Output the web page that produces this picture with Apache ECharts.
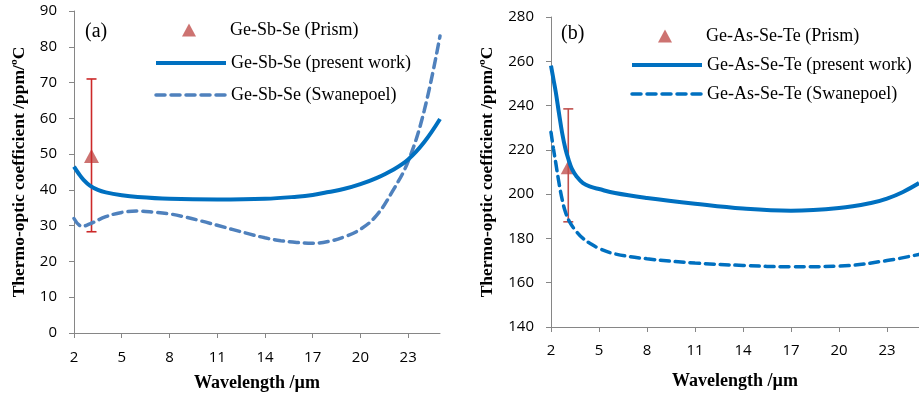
<!DOCTYPE html>
<html>
<head>
<meta charset="utf-8">
<script src="https://cdn.jsdelivr.net/npm/echarts@6/dist/echarts.min.js"></script>
<style>
  html, body { margin: 0; padding: 0; background: #fff; }
  #chart { width: 919px; height: 394px; }
</style>
</head>
<body>
<div id="chart"></div>
<script>
// panel (a): Ge-Sb-Se
const xTicks = [2, 5, 8, 11, 14, 17, 20, 23];
const gssPresentX = [2, 2.3, 2.6, 3, 3.5, 4, 5, 6, 8, 11, 14, 16, 17, 18, 19, 20, 21, 22, 23, 24, 25];
const gssPresentY = [46.5, 44.5, 42.8, 41.2, 40, 39.3, 38.5, 38, 37.5, 37.3, 37.5, 38.1, 38.6, 39.4, 40.3, 41.6, 43.3, 45.5, 48.5, 53.3, 59.8];
const gssSwanX = [2, 2.5, 3, 4, 5, 6, 7, 8, 9, 10, 11, 12, 13, 14, 15, 16, 17, 18, 19, 20, 21, 22, 23, 24, 25];
const gssSwanY = [32, 29.8, 30.5, 32.5, 33.7, 34.1, 33.8, 33.3, 32.4, 31.3, 30.1, 28.9, 27.7, 26.6, 25.8, 25.3, 25.1, 25.6, 26.9, 29.0, 32.8, 39.5, 48.0, 62.0, 83.0];
const gssPrism = [3.1, 49.5];
const gssPrismErr = [3.1, 28.3, 71];

// panel (b): Ge-As-Se-Te
const gastPresentX = [2, 2.15, 2.3, 2.5, 2.7, 2.9, 3.1, 3.3, 3.6, 4, 4.5, 5, 6, 8, 11, 14, 17, 20, 22, 23, 24, 25];
const gastPresentY = [258, 252, 246, 236.5, 227.5, 220.5, 215.5, 211.5, 208, 205, 203.3, 202.3, 200.5, 198.3, 195.7, 193.5, 192.5, 193.7, 196, 198, 201, 205];
const gastSwanX = [2, 2.15, 2.3, 2.5, 2.7, 2.9, 3.2, 3.6, 4, 4.5, 5, 6, 8, 11, 14, 17, 20, 23, 25];
const gastSwanY = [228, 220.6, 214, 205, 197.5, 192, 187, 183, 180, 177.5, 175.5, 173, 170.8, 168.9, 167.8, 167.2, 167.5, 170, 172.8];
const gastPrism = [3.08, 212.2];
const gastPrismErr = [3.08, 187.5, 238.5];

const zip = (xs, ys) => xs.map((x, i) => [x, ys[i]]);

const serif = 'Liberation Serif';
const sans = 'Open Sans';
const axisGrey = '#868686';
const blue = '#0070C0';
const lightBlue = '#4F81BD';
const red = '#C0504D';

function errorBar(params, api) {
  const x = api.value(0);
  const top = api.coord([x, api.value(2)]);
  const bot = api.coord([x, api.value(1)]);
  const style = { stroke: params.seriesIndex === 1 ? '#CC2929' : red, lineWidth: 1.6 };
  const w = 5;
  return {
    type: 'group',
    children: [
      { type: 'line', shape: { x1: top[0], y1: top[1], x2: bot[0], y2: bot[1] }, style },
      { type: 'line', shape: { x1: top[0] - w, y1: top[1], x2: top[0] + w, y2: top[1] }, style },
      { type: 'line', shape: { x1: bot[0] - w, y1: bot[1], x2: bot[0] + w, y2: bot[1] }, style }
    ]
  };
}

function xAxisFor(idx, gap, margin) {
  return {
    type: 'value', gridIndex: idx, min: 2, max: 25,
    name: 'Wavelength /µm', nameLocation: 'middle', nameGap: gap,
    nameTextStyle: { fontFamily: serif, fontWeight: 'bold', fontSize: 18, color: '#000' },
    axisLine: { lineStyle: { color: axisGrey, width: 1 } },
    axisTick: { show: true, inside: false, length: 5, lineStyle: { color: axisGrey }, customValues: xTicks },
    axisLabel: { fontFamily: sans, fontSize: 15, color: '#000', margin, customValues: xTicks },
    splitLine: { show: false }
  };
}

function yAxisFor(idx, min, max, interval, gap) {
  return {
    type: 'value', gridIndex: idx, min, max, interval,
    name: 'Thermo-optic coefficient /ppm/ºC', nameLocation: 'middle', nameGap: gap,
    nameTextStyle: { fontFamily: serif, fontWeight: 'bold', fontSize: 17.5, color: '#000' },
    axisLine: { show: true, lineStyle: { color: axisGrey, width: 1 } },
    axisTick: { show: true, inside: false, length: 5, lineStyle: { color: axisGrey } },
    axisLabel: { fontFamily: sans, fontSize: 15, color: '#000', margin: 17 },
    splitLine: { show: false }
  };
}

const legendText = { fontFamily: serif, fontSize: 18, color: '#000' };
const noDot = { opacity: 0 };

// line rows of the legend (70px line icons, full line width)
function lineLegend(left, top, gap, names) {
  return {
    orient: 'vertical', left, top, itemGap: gap, padding: 0,
    itemWidth: 70, itemHeight: 12,
    textStyle: legendText,
    data: [
      { name: names[0], itemStyle: noDot, lineStyle: { width: 4 } },
      { name: names[1], itemStyle: noDot, lineStyle: { width: 3.5 } }
    ]
  };
}

// prism row: small triangle centred over the line icons, text aligned with them
function prismLegend(left, top, name) {
  return {
    orient: 'vertical', left, top, padding: 0,
    itemWidth: 14, itemHeight: 13,
    textStyle: Object.assign({ padding: [0, 0, 0, 29] }, legendText),
    data: [{ name, icon: 'triangle' }]
  };
}

const chart = echarts.init(document.getElementById('chart'), null, { renderer: 'canvas' });

const option = {
  animation: false,
  backgroundColor: '#fff',
  title: [
    { text: '(a)', left: 85, top: 22, padding: 0, textStyle: { fontFamily: serif, fontSize: 20, fontWeight: 'normal', color: '#000' } },
    { text: '(b)', left: 561, top: 24, padding: 0, textStyle: { fontFamily: serif, fontSize: 20, fontWeight: 'normal', color: '#000' } }
  ],
  grid: [
    { left: 74, top: 11, width: 366, height: 322, outerBoundsMode: 'none' },
    { left: 551, top: 17, width: 368, height: 310, outerBoundsMode: 'none' }
  ],
  xAxis: [xAxisFor(0, 41, 17), xAxisFor(1, 45, 16)],
  yAxis: [yAxisFor(0, 0, 90, 10, 46), yAxisFor(1, 140, 280, 20, 55)],
  legend: [
    prismLegend(182, 21, 'Ge-Sb-Se (Prism)'),
    lineLegend(154, 54, 14, ['Ge-Sb-Se (present work)', 'Ge-Sb-Se (Swanepoel)']),
    prismLegend(658, 27, 'Ge-As-Se-Te (Prism)'),
    lineLegend(630, 56, 11, ['Ge-As-Se-Te (present work)', 'Ge-As-Se-Te (Swanepoel)'])
  ],
  series: [
    // (a)
    { name: 'Ge-Sb-Se (Prism)', type: 'scatter', xAxisIndex: 0, yAxisIndex: 0, z: 1,
      symbol: 'triangle', symbolSize: [15, 14], itemStyle: { color: red }, data: [gssPrism] },
    { type: 'custom', xAxisIndex: 0, yAxisIndex: 0, z: 2, renderItem: errorBar,
      encode: { x: 0, y: [1, 2] }, data: [gssPrismErr] },
    { name: 'Ge-Sb-Se (present work)', type: 'line', xAxisIndex: 0, yAxisIndex: 0, z: 4,
      smooth: 0.4, symbol: 'none', lineStyle: { color: blue, width: 4 }, itemStyle: { color: blue },
      data: zip(gssPresentX, gssPresentY) },
    { name: 'Ge-Sb-Se (Swanepoel)', type: 'line', xAxisIndex: 0, yAxisIndex: 0, z: 3,
      smooth: 0.4, symbol: 'none', lineStyle: { color: lightBlue, width: 3.5, type: [9, 6], cap: 'round' },
      itemStyle: { color: lightBlue }, data: zip(gssSwanX, gssSwanY) },
    // (b)
    { name: 'Ge-As-Se-Te (Prism)', type: 'scatter', xAxisIndex: 1, yAxisIndex: 1, z: 1,
      symbol: 'triangle', symbolSize: [15, 14], itemStyle: { color: red }, data: [gastPrism] },
    { type: 'custom', xAxisIndex: 1, yAxisIndex: 1, z: 2, renderItem: errorBar,
      encode: { x: 0, y: [1, 2] }, data: [gastPrismErr] },
    { name: 'Ge-As-Se-Te (present work)', type: 'line', xAxisIndex: 1, yAxisIndex: 1, z: 4,
      smooth: 0.4, symbol: 'none', lineStyle: { color: blue, width: 4 }, itemStyle: { color: blue },
      data: zip(gastPresentX, gastPresentY) },
    { name: 'Ge-As-Se-Te (Swanepoel)', type: 'line', xAxisIndex: 1, yAxisIndex: 1, z: 3,
      smooth: 0.4, symbol: 'none', lineStyle: { color: blue, width: 3.5, type: [9, 6], cap: 'round' },
      itemStyle: { color: blue }, data: zip(gastSwanX, gastSwanY) }
  ]
};

chart.setOption(option);
</script>
</body>
</html>
